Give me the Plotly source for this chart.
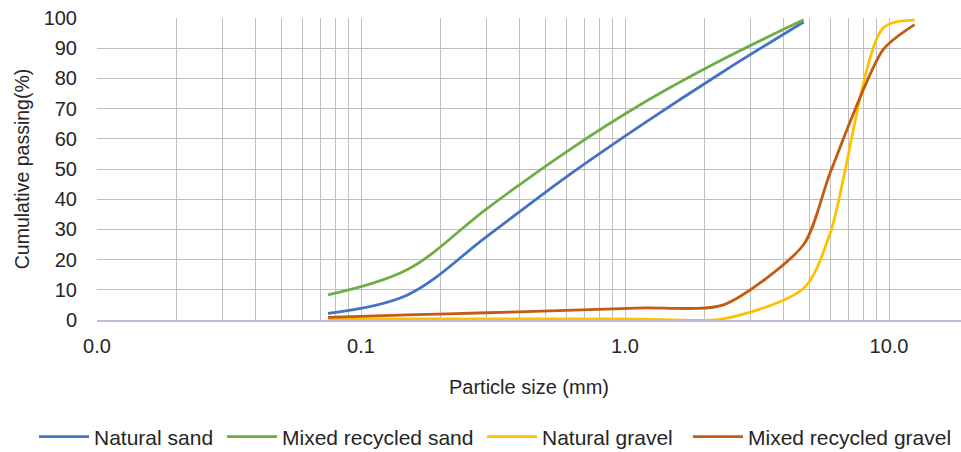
import plotly.graph_objects as go

# Sieve sizes (mm)
sand_sizes = [0.075, 0.15, 0.3, 0.6, 1.18, 2.36, 4.75]
gravel_sizes = [0.075, 0.15, 0.3, 0.6, 1.18, 2.36, 4.75, 6.0, 9.5, 12.5]

# Cumulative passing (%)
natural_sand = [2.2, 8.3, 27.7, 47.4, 65.1, 82.3, 98.7]
mixed_recycled_sand = [8.3, 16.7, 36.9, 55.7, 72.0, 86.4, 99.4]
natural_gravel = [0.4, 0.4, 0.4, 0.4, 0.3, 0.4, 10.5, 29.0, 96.7, 99.3]
mixed_recycled_gravel = [0.9, 1.7, 2.4, 3.2, 4.0, 5.0, 25.0, 49.0, 89.5, 97.8]

series_names = ["Natural sand", "Mixed recycled sand", "Natural gravel", "Mixed recycled gravel"]
series_colors = ["#4472C4", "#70AD47", "#FFC000", "#C55A11"]

x_grid_vals = [m * 10 ** e for e in (-2, -1, 0, 1) for m in range(1, 10)]
x_tick_labels = {0.01: "0.0", 0.1: "0.1", 1: "1.0", 10: "10.0"}
y_ticks = list(range(0, 101, 10))

FONT = "Liberation Sans, Arial, sans-serif"
W, H = 961, 452
fig = go.Figure()
data = [
    (sand_sizes, natural_sand, 1.0),
    (sand_sizes, mixed_recycled_sand, 1.0),
    (gravel_sizes, natural_gravel, 0.8),
    (gravel_sizes, mixed_recycled_gravel, 0.7),
]
legend_ids = ["legend", "legend2", "legend3", "legend4"]
legend_x_screen = [44, 232, 492, 698]
for (xs, ys, sm), name, color, lid in zip(data, series_names, series_colors, legend_ids):
    fig.add_trace(go.Scatter(
        x=xs, y=ys, name=name, mode="lines", legend=lid,
        line=dict(color=color, width=2.8, shape="spline", smoothing=sm),
    ))

ticktext = []
for v in x_grid_vals:
    lab = ""
    for k, t in x_tick_labels.items():
        if abs(v - k) < 1e-9:
            lab = t
    ticktext.append(lab)

legend_common = dict(
    orientation="h", yanchor="middle", xanchor="left",
    xref="container", yref="container",
    font=dict(size=21, family=FONT, color="#262626"), itemwidth=50,
    bgcolor="rgba(0,0,0,0)",
)
legends = {}
for lid, xs in zip(legend_ids, legend_x_screen):
    legends[lid] = dict(legend_common, x=(xs - 10) / W, y=1 - 437 / H)

fig.update_layout(
    width=W, height=H,
    margin=dict(l=97, r=0, t=18, b=132),
    paper_bgcolor="white", plot_bgcolor="white",
    font=dict(family=FONT, size=20, color="#262626"),
    xaxis=dict(
        type="log", range=[-2, 1.2727], automargin=False,
        tickmode="array", tickvals=x_grid_vals, ticktext=ticktext,
        showgrid=True, gridcolor="#BFBFBF", gridwidth=1.3,
        showline=True, linecolor="#BDBDD6", linewidth=1.5,
        ticks="", ticklabelstandoff=7,
        tickfont=dict(size=20),
        title=dict(text="Particle size (mm)", font=dict(size=20), standoff=24),
        zeroline=False,
    ),
    yaxis=dict(
        range=[0, 100], tickmode="array", tickvals=y_ticks, automargin=False,
        showgrid=True, gridcolor="#BFBFBF", gridwidth=1.3,
        showline=False, ticks="", ticklabelstandoff=19,
        tickfont=dict(size=20),
        title=dict(text="Cumulative passing(%)", font=dict(size=19.5), standoff=8),
        zeroline=False,
    ),
    showlegend=True,
    **legends,
)

fig.write_html(
    "out.html",
    config={"displayModeBar": False},
    post_script="document.body.style.margin='0';",
)
